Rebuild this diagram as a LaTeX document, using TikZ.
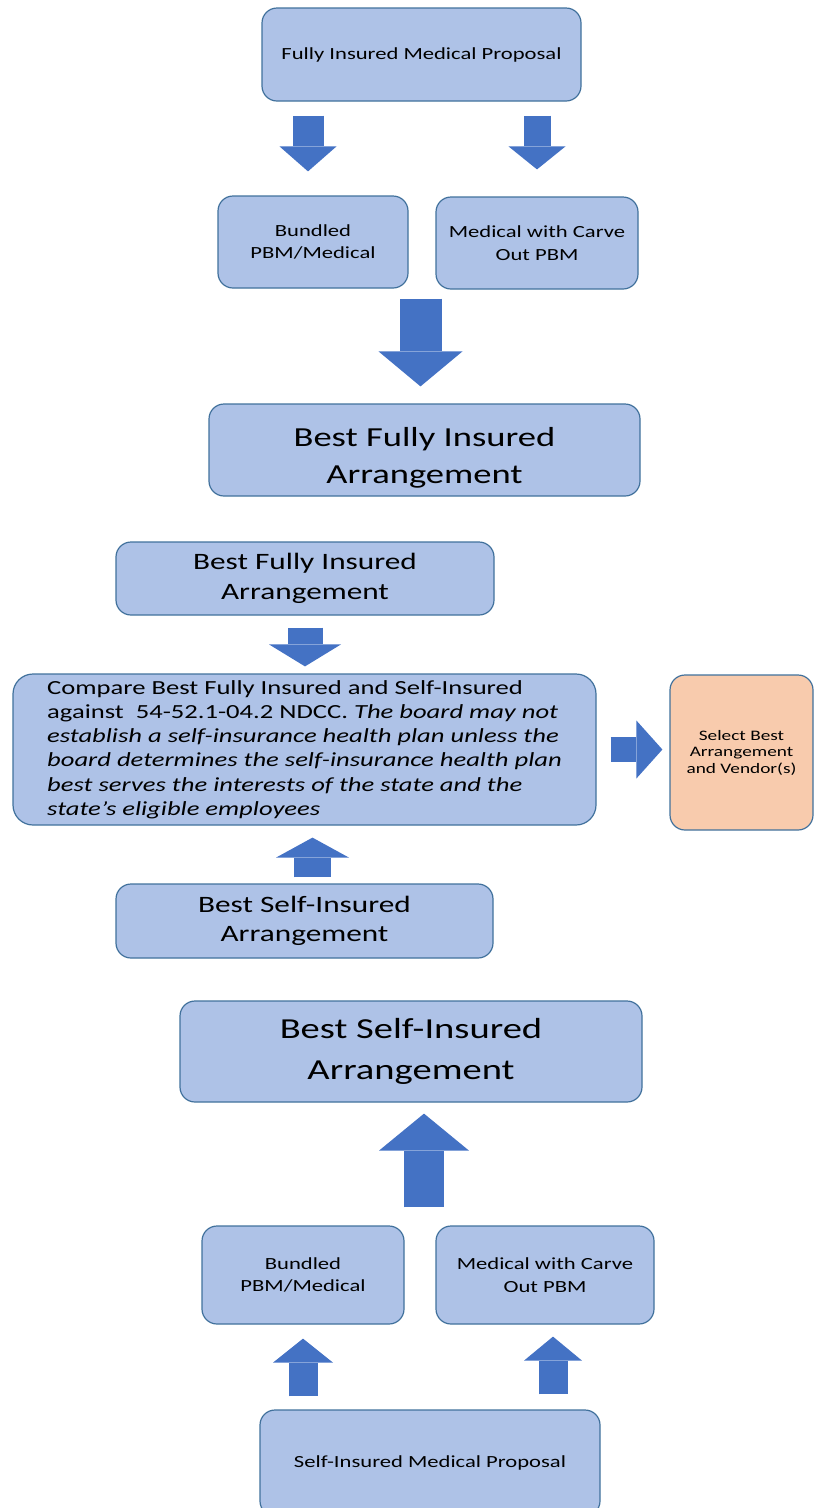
\documentclass[tikz,border=0pt]{standalone}
\usepackage{fontspec}
\setmainfont{Carlito}[FakeStretch=1.33]
\usepackage{xcolor}
\usetikzlibrary{arrows.meta, calc}

\definecolor{boxblue}{HTML}{AEC2E7}
\definecolor{boxline}{HTML}{41719C}
\definecolor{arrowblue}{HTML}{4472C4}
\definecolor{boxorange}{HTML}{F8CBAD}

\tikzset{
  box/.style={draw=boxline, fill=boxblue, line width=1.2pt, rounded corners=15pt, align=center, inner sep=0pt},
  small/.style={font=\fontsize{17}{22.5}\selectfont},
  mid/.style={font=\fontsize{23.5}{29.5}\selectfont},
  big/.style={font=\fontsize{27.5}{37}\selectfont},
  bigger/.style={font=\fontsize{29}{41}\selectfont},
  fat/.style n args={3}{arrowblue, line width=#1,
    -{Triangle[width=#2 0 0, length=#3 0 0, line width=0pt 0 0]}},
}

\begin{document}
\begin{tikzpicture}[x=1pt, y=-1pt]
\useasboundingbox (0,0) rectangle (814,1508);

\node[box, small, minimum width=319pt, minimum height=93pt] (fip) at (421.5,54.5) {Fully Insured Medical Proposal};
\node[box, small, minimum width=190pt, minimum height=92pt] (bpmA) at (313,242) {Bundled\\PBM/Medical};
\node[box, small, minimum width=202pt, minimum height=92pt] (carveA) at (537,243) {Medical with Carve\\Out PBM};
\node[box, big, minimum width=431pt, minimum height=92pt] (bestFI) at (424.5,450) {\rule{0pt}{34pt}Best Fully Insured\\Arrangement};
\node[box, mid, minimum width=378pt, minimum height=73pt] (bestFIm) at (305,578.5) {Best Fully Insured\\Arrangement};
\node[box, rounded corners=20pt, minimum width=583pt, minimum height=151pt, align=left,
  font=\fontsize{20}{24.2}\selectfont] (cmp) at (304.5,749.5)
  {Compare Best Fully Insured and Self-Insured\\
   against~ 54-52.1-04.2 NDCC. \textit{The board may not}\\
   \textit{establish a self-insurance health plan unless the}\\
   \textit{board determines the self-insurance health plan}\\
   \textit{best serves the interests of the state and the}\\
   \textit{state's eligible employees}};
\node[box, fill=boxorange, minimum width=143pt, minimum height=155pt,
  font=\fontsize{14.5}{16.5}\selectfont] (sel) at (741.5,752.5) {Select Best\\Arrangement\\and Vendor(s)};
\node[box, mid, minimum width=377pt, minimum height=74pt] (bestSIm) at (304.5,921) {Best Self-Insured\\Arrangement};
\node[box, bigger, minimum width=462pt, minimum height=101pt] (bestSI) at (411,1051.5) {Best Self-Insured\\Arrangement};
\node[box, small, minimum width=202pt, minimum height=98pt] (bpmB) at (303,1275) {Bundled\\PBM/Medical};
\node[box, small, minimum width=218pt, minimum height=98pt] (carveB) at (545,1275) {Medical with Carve\\Out PBM};
\node[box, small, minimum width=340pt, minimum height=106pt] (simp) at (430,1463) {Self-Insured Medical Proposal};

\coordinate (mB) at ($(bpmB.north)!.5!(carveB.north)$);

\draw[fat={31pt}{57pt}{25pt}, shorten <=14pt, shorten >=24pt, transform canvas={xshift=-5pt}] (fip.south -| bpmA) -- (bpmA.north);
\draw[fat={27pt}{57pt}{23pt}, shorten <=14pt, shorten >=27pt] (fip.south -| carveA) -- (carveA.north);
\draw[fat={42pt}{84pt}{35pt}, shorten <=9pt, shorten >=17pt, transform canvas={xshift=-4pt}] (bestFI.north |- carveA.south) -- (bestFI.north);
\draw[fat={35pt}{72pt}{22pt}, shorten <=12pt, shorten >=7pt] (bestFIm.south) -- (bestFIm.south |- cmp.north);
\draw[fat={25pt}{58pt}{26pt}, shorten <=14pt, shorten >=7pt] (cmp.east) -- (cmp.east -| sel.west);
\draw[fat={37pt}{73pt}{20pt}, shorten <=6pt, shorten >=12pt, transform canvas={xshift=8pt}] (bestSIm.north) -- (bestSIm.north |- cmp.south);
\draw[fat={40pt}{90pt}{37pt}, shorten <=18pt, shorten >=11pt] (mB) -- (mB |- bestSI.south);
\draw[fat={29pt}{60pt}{24pt}, shorten <=13pt, shorten >=14pt] (simp.north -| bpmB) -- (bpmB.south);
\draw[fat={29pt}{58pt}{24pt}, shorten <=15pt, shorten >=12pt, transform canvas={xshift=8pt}] (simp.north -| carveB) -- (carveB.south);
\end{tikzpicture}
\end{document}
